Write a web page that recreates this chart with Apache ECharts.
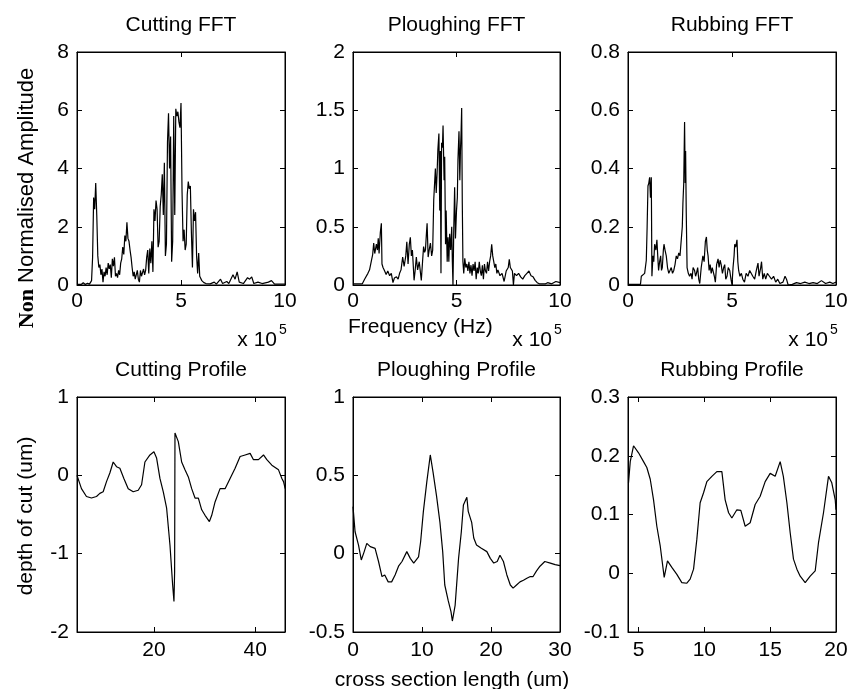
<!DOCTYPE html>
<html lang="en">
<head>
<meta charset="UTF-8">
<title>FFT and surface profiles</title>
<script src="https://cdn.jsdelivr.net/npm/echarts@6/dist/echarts.min.js"></script>
<style>
    body { margin: 0; background: #fff; }
    #chart { width: 859px; height: 689px; }
</style>
</head>
<body>
<div id="chart"></div>
<script>
    // ---- data: FFT spectra (frequency in units of 1e5 Hz, amplitude) ----
    const cuttingFft = [[0,0.02],[0.2,0.02],[0.3,0.08],[0.4,0.02],[0.5,0.06],[0.6,0.03],[0.7,0.15],[0.75,0.95],[0.8,3.0],[0.85,2.6],[0.9,3.5],[0.95,2.4],[1.0,1.0],[1.05,0.6],[1.1,0.7],[1.15,0.35],[1.2,0.55],[1.25,0.1],[1.3,0.45],[1.35,0.3],[1.4,0.6],[1.45,0.35],[1.5,0.75],[1.55,0.55],[1.6,0.7],[1.65,0.25],[1.7,0.9],[1.75,0.65],[1.8,0.95],[1.85,0.3],[1.9,0.4],[1.95,0.25],[2.0,0.5],[2.05,0.35],[2.1,0.75],[2.15,0.9],[2.2,1.3],[2.25,1.05],[2.3,1.7],[2.35,1.5],[2.4,2.15],[2.45,1.6],[2.5,1.5],[2.55,1.2],[2.6,0.95],[2.65,0.6],[2.7,0.3],[2.75,0.45],[2.8,0.2],[2.9,0.5],[2.95,0.2],[3.0,0.1],[3.05,0.5],[3.1,0.3],[3.2,0.55],[3.25,0.35],[3.3,0.5],[3.35,0.95],[3.4,1.2],[3.45,0.4],[3.5,1.25],[3.55,0.75],[3.6,1.5],[3.65,0.45],[3.7,2.6],[3.75,2.2],[3.8,2.9],[3.85,2.6],[3.9,1.3],[3.95,1.5],[4.0,2.7],[4.05,3.1],[4.1,3.8],[4.15,2.4],[4.2,4.2],[4.25,1.0],[4.3,1.4],[4.35,4.9],[4.4,5.9],[4.45,4.0],[4.5,5.1],[4.55,0.8],[4.6,1.5],[4.65,5.8],[4.7,2.4],[4.75,6.05],[4.8,5.8],[4.85,5.95],[4.9,5.6],[4.95,5.4],[5.0,6.25],[5.05,3.2],[5.1,1.5],[5.15,1.9],[5.2,1.2],[5.25,1.4],[5.3,3.1],[5.35,3.55],[5.4,3.3],[5.45,3.4],[5.5,1.8],[5.55,0.6],[5.6,2.6],[5.65,2.2],[5.7,2.5],[5.75,1.0],[5.8,0.4],[5.85,1.1],[5.9,0.3],[6.0,0.15],[6.1,0.08],[6.2,0.05],[6.4,0.04],[6.6,0.1],[6.7,0.03],[6.9,0.2],[7.0,0.05],[7.2,0.12],[7.3,0.05],[7.5,0.35],[7.6,0.2],[7.7,0.45],[7.8,0.1],[8.0,0.05],[8.2,0.25],[8.3,0.2],[8.4,0.28],[8.5,0.05],[8.7,0.1],[8.9,0.05],[9.2,0.1],[9.35,0.15],[9.5,0.03],[10,0.03]];
    const ploughingFft = [[0,0.01],[0.45,0.01],[0.56,0.05],[0.65,0.06],[0.72,0.1],[0.8,0.13],[0.89,0.21],[0.95,0.26],[1.0,0.36],[1.05,0.27],[1.13,0.35],[1.18,0.3],[1.22,0.4],[1.26,0.27],[1.32,0.45],[1.37,0.53],[1.4,0.18],[1.45,0.15],[1.53,0.12],[1.6,0.09],[1.68,0.12],[1.77,0.08],[1.85,0.1],[1.93,0.02],[2.0,0.06],[2.1,0.07],[2.18,0.05],[2.25,0.1],[2.32,0.13],[2.4,0.24],[2.47,0.16],[2.55,0.25],[2.6,0.37],[2.66,0.18],[2.72,0.35],[2.77,0.41],[2.82,0.25],[2.87,0.3],[2.95,0.04],[3.0,0.12],[3.06,0.24],[3.12,0.13],[3.2,0.2],[3.25,0.21],[3.3,0.04],[3.36,0.2],[3.41,0.33],[3.46,0.28],[3.5,0.3],[3.55,0.45],[3.58,0.53],[3.63,0.24],[3.68,0.3],[3.74,0.36],[3.8,0.25],[3.85,0.3],[3.9,0.73],[3.95,0.9],[3.98,1.0],[4.02,0.79],[4.06,0.95],[4.1,1.16],[4.15,1.3],[4.19,0.64],[4.22,1.15],[4.25,0.1],[4.28,1.22],[4.32,1.18],[4.35,1.37],[4.4,0.9],[4.43,1.1],[4.47,0.35],[4.5,0.64],[4.55,0.2],[4.59,0.41],[4.63,0.2],[4.67,0.44],[4.72,0.3],[4.77,0.5],[4.8,0.2],[4.83,0.0],[4.87,0.5],[4.91,0.84],[4.95,0.4],[5.0,0.64],[5.04,0.75],[5.07,1.07],[5.12,1.32],[5.16,0.9],[5.19,1.15],[5.22,1.3],[5.25,1.52],[5.28,0.7],[5.31,0.2],[5.35,0.1],[5.4,0.23],[5.45,0.15],[5.5,0.18],[5.55,0.12],[5.6,0.2],[5.65,0.1],[5.7,0.17],[5.75,0.08],[5.8,0.18],[5.85,0.12],[5.9,0.2],[5.95,0.05],[6.0,0.15],[6.05,0.1],[6.1,0.2],[6.15,0.12],[6.2,0.08],[6.25,0.17],[6.3,0.05],[6.35,0.18],[6.4,0.12],[6.45,0.1],[6.5,0.2],[6.55,0.12],[6.6,0.2],[6.65,0.25],[6.7,0.35],[6.75,0.25],[6.8,0.2],[6.85,0.15],[6.9,0.18],[6.95,0.1],[7.0,0.13],[7.1,0.08],[7.2,0.1],[7.3,0.03],[7.4,0.12],[7.5,0.15],[7.55,0.22],[7.6,0.15],[7.7,0.12],[7.75,0.0],[7.8,0.1],[7.9,0.08],[8.0,0.1],[8.1,0.07],[8.2,0.05],[8.3,0.08],[8.4,0.1],[8.5,0.12],[8.6,0.08],[8.7,0.07],[8.8,0.04],[8.9,0.02],[9.0,0.01],[9.3,0.01],[9.4,0.02],[9.6,0.01],[9.8,0.03],[10,0.02]];
    const rubbingFft = [[0,0.002],[0.6,0.002],[0.64,0.03],[0.72,0.03],[0.8,0.04],[0.88,0.085],[0.92,0.2],[0.96,0.34],[1.0,0.35],[1.04,0.37],[1.08,0.3],[1.12,0.37],[1.15,0.03],[1.2,0.1],[1.24,0.08],[1.28,0.14],[1.34,0.12],[1.39,0.155],[1.43,0.1],[1.47,0.05],[1.52,0.08],[1.57,0.1],[1.61,0.05],[1.65,0.06],[1.7,0.12],[1.73,0.14],[1.78,0.12],[1.84,0.1],[1.9,0.06],[1.96,0.04],[2.02,0.05],[2.08,0.06],[2.14,0.04],[2.2,0.05],[2.26,0.07],[2.32,0.1],[2.38,0.09],[2.44,0.11],[2.5,0.1],[2.56,0.1],[2.61,0.2],[2.64,0.28],[2.68,0.35],[2.72,0.56],[2.75,0.35],[2.77,0.46],[2.8,0.25],[2.84,0.06],[2.9,0.04],[2.96,0.03],[3.03,0.04],[3.08,0.02],[3.13,0.06],[3.2,0.05],[3.25,0.03],[3.29,0.04],[3.35,0.06],[3.4,0.02],[3.45,0.005],[3.52,0.06],[3.6,0.1],[3.66,0.08],[3.72,0.15],[3.77,0.165],[3.81,0.12],[3.85,0.1],[3.9,0.05],[3.95,0.07],[4.0,0.04],[4.05,0.06],[4.09,0.06],[4.15,0.03],[4.2,0.01],[4.26,0.07],[4.33,0.09],[4.38,0.06],[4.43,0.085],[4.48,0.07],[4.54,0.04],[4.6,0.06],[4.65,0.07],[4.7,0.02],[4.76,0.03],[4.82,0.06],[4.89,0.05],[4.95,0.02],[5.0,0.0],[5.05,0.06],[5.1,0.1],[5.13,0.14],[5.18,0.13],[5.24,0.155],[5.28,0.08],[5.32,0.05],[5.38,0.03],[5.45,0.04],[5.52,0.02],[5.6,0.01],[5.68,0.04],[5.77,0.03],[5.85,0.05],[5.93,0.045],[6.0,0.03],[6.09,0.02],[6.17,0.05],[6.25,0.075],[6.3,0.03],[6.38,0.06],[6.42,0.08],[6.48,0.02],[6.55,0.04],[6.62,0.02],[6.7,0.04],[6.8,0.03],[6.9,0.02],[7.0,0.03],[7.1,0.01],[7.2,0.02],[7.3,0.005],[7.45,0.01],[7.55,0.03],[7.62,0.02],[7.7,0.0],[7.9,0.002],[8.1,0.008],[8.3,0.005],[8.5,0.01],[8.7,0.005],[8.9,0.008],[9.1,0.005],[9.3,0.015],[9.5,0.005],[9.7,0.01],[9.85,0.005],[10,0.01]];

    // ---- data: surface profiles (cross section length um, depth um) ----
    const cuttingProfile = [[4.8,0],[5.68,-0.17],[6.67,-0.27],[7.66,-0.29],[8.65,-0.27],[9.31,-0.23],[9.97,-0.21],[10.63,-0.08],[11.29,0.03],[11.95,0.17],[12.61,0.11],[13.27,0.09],[14.06,-0.04],[14.92,-0.17],[15.91,-0.21],[16.9,-0.19],[17.56,-0.12],[18.22,0.17],[19.21,0.26],[20.0,0.3],[20.53,0.22],[21.19,-0.04],[21.85,-0.21],[22.51,-0.42],[23.17,-0.89],[23.7,-1.4],[23.96,-1.61],[24.09,-1.23],[24.16,0.54],[24.82,0.43],[25.48,0.17],[26.14,0.07],[26.8,-0.02],[27.46,-0.17],[28.12,-0.29],[28.78,-0.29],[29.44,-0.44],[30.1,-0.51],[30.96,-0.59],[31.42,-0.51],[32.08,-0.34],[33.07,-0.17],[34.06,-0.17],[35.05,-0.04],[36.04,0.09],[37.03,0.24],[38.02,0.26],[39.01,0.28],[39.67,0.2],[40.66,0.2],[41.65,0.26],[42.31,0.2],[43.3,0.13],[44.62,0.07],[45.28,-0.04],[45.61,-0.08],[45.94,-0.17]];
    const ploughingProfile = [[0,0.3],[0.3,0.14],[0.8,0.055],[1.2,-0.04],[1.6,0.01],[2.0,0.066],[2.5,0.045],[3.2,0.034],[3.7,-0.05],[4.2,-0.146],[4.6,-0.136],[5.1,-0.18],[5.6,-0.18],[6.1,-0.136],[6.6,-0.08],[7.1,-0.05],[7.8,0.013],[8.3,-0.03],[8.8,-0.06],[9.5,-0.02],[9.8,0.076],[10.2,0.27],[10.7,0.46],[11.2,0.63],[11.6,0.52],[12.1,0.37],[12.6,0.2],[13.0,0.013],[13.3,-0.2],[13.8,-0.3],[14.2,-0.37],[14.4,-0.43],[14.8,-0.33],[15.3,-0.03],[15.7,0.14],[16.0,0.31],[16.5,0.36],[16.7,0.27],[17.2,0.2],[17.5,0.1],[17.9,0.055],[18.6,0.034],[19.4,0.013],[19.9,-0.03],[20.4,-0.06],[20.9,-0.05],[21.3,-0.01],[21.8,-0.05],[22.3,-0.136],[22.8,-0.2],[23.2,-0.22],[23.7,-0.2],[24.2,-0.18],[24.7,-0.17],[25.2,-0.157],[25.7,-0.146],[26.1,-0.146],[26.6,-0.11],[27.1,-0.08],[27.8,-0.05],[28.6,-0.06],[29.3,-0.07],[30.0,-0.076]];
    const rubbingProfile = [[4.24,0.154],[4.37,0.19],[4.62,0.217],[5.0,0.205],[5.38,0.19],[5.63,0.18],[5.89,0.16],[6.14,0.125],[6.39,0.08],[6.65,0.046],[6.95,-0.007],[7.2,0.021],[7.53,0.01],[7.91,-0.002],[8.29,-0.016],[8.67,-0.017],[8.92,-0.01],[9.18,0.007],[9.43,0.058],[9.68,0.12],[9.94,0.137],[10.19,0.156],[10.57,0.165],[10.95,0.173],[11.33,0.173],[11.58,0.125],[11.84,0.103],[12.09,0.094],[12.47,0.108],[12.77,0.107],[13.1,0.08],[13.48,0.086],[13.86,0.117],[14.24,0.131],[14.62,0.156],[15.0,0.17],[15.38,0.165],[15.76,0.19],[16.0,0.165],[16.27,0.12],[16.52,0.069],[16.77,0.024],[17.03,0.007],[17.28,-0.005],[17.66,-0.016],[18.04,-0.005],[18.42,0.004],[18.67,0.052],[19.05,0.103],[19.43,0.165],[19.68,0.154],[19.94,0.125],[20.0,0.108]];

    // ---- tick labels ----
    const fftXTicks = [0, 5, 10];
    const cuttingFftYTicks = [0, 2, 4, 6, 8];
    const ploughingFftYTicks = [0, 0.5, 1, 1.5, 2];
    const rubbingFftYTicks = [0, 0.2, 0.4, 0.6, 0.8];
    const cuttingProfileXTicks = [20, 40];
    const cuttingProfileYTicks = [-2, -1, 0, 1];
    const ploughingProfileXTicks = [0, 10, 20, 30];
    const ploughingProfileYTicks = [-0.5, 0, 0.5, 1];
    const rubbingProfileXTicks = [5, 10, 15, 20];
    const rubbingProfileYTicks = [-0.1, 0, 0.1, 0.2, 0.3];

    const FONT = "'Liberation Sans', Arial, sans-serif";
    const FS = 21;

    // 面板布局
    const panels = [
        { title: "Cutting FFT", data: cuttingFft, box: [77, 52, 208, 233], xr: [0, 10], yr: [0, 8], xt: fftXTicks, yt: cuttingFftYTicks },
        { title: "Ploughing FFT", data: ploughingFft, box: [353, 52, 207, 233], xr: [0, 10], yr: [0, 2], xt: fftXTicks, yt: ploughingFftYTicks },
        { title: "Rubbing FFT", data: rubbingFft, box: [628, 52, 208, 233], xr: [0, 10], yr: [0, 0.8], xt: fftXTicks, yt: rubbingFftYTicks },
        { title: "Cutting Profile", data: cuttingProfile, box: [77, 397, 208, 235], xr: [4.8, 45.9], yr: [-2, 1], xt: cuttingProfileXTicks, yt: cuttingProfileYTicks },
        { title: "Ploughing Profile", data: ploughingProfile, box: [353, 397, 207, 235], xr: [0, 30], yr: [-0.5, 1], xt: ploughingProfileXTicks, yt: ploughingProfileYTicks },
        { title: "Rubbing Profile", data: rubbingProfile, box: [628, 397, 208, 235], xr: [4.2, 20], yr: [-0.1, 0.3], xt: rubbingProfileXTicks, yt: rubbingProfileYTicks }
    ];

    const grid = [], xAxis = [], yAxis = [], series = [], graphic = [];
    const txt = (x, y, text, extra) => ({
        type: "text", x: x, y: y, silent: true,
        style: Object.assign({ text: text, fill: "#000", font: FS + "px " + FONT, textAlign: "center", textVerticalAlign: "middle" }, extra || {})
    });

    panels.forEach((p, i) => {
        const [l, t, w, h] = p.box;
        grid.push({ left: l, top: t, width: w, height: h, show: true, borderColor: "#000", borderWidth: 1, containLabel: false, outerBoundsMode: "none" });
        const tick = (vals) => ({ show: true, inside: true, length: 5, customValues: vals, lineStyle: { color: "#000", width: 1 } });
        const line = { show: true, onZero: false, lineStyle: { color: "#000", width: 1 } };
        const label = (vals, margin) => ({ show: true, customValues: vals, margin: margin, color: "#000", fontSize: FS, fontFamily: FONT, showMinLabel: true, showMaxLabel: true });
        const base = { gridIndex: i, type: "value", splitLine: { show: false }, axisLine: line };
        xAxis.push(Object.assign({}, base, { position: "bottom", min: p.xr[0], max: p.xr[1], axisTick: tick(p.xt), axisLabel: label(p.xt, i < 3 ? 6 : 8) }));
        xAxis.push(Object.assign({}, base, { position: "top", min: p.xr[0], max: p.xr[1], axisTick: tick(p.xt), axisLabel: { show: false } }));
        yAxis.push(Object.assign({}, base, { position: "left", min: p.yr[0], max: p.yr[1], axisTick: tick(p.yt), axisLabel: label(p.yt, 8) }));
        yAxis.push(Object.assign({}, base, { position: "right", min: p.yr[0], max: p.yr[1], axisTick: tick(p.yt), axisLabel: { show: false } }));
        series.push({
            type: "line", xAxisIndex: 2 * i, yAxisIndex: 2 * i, data: p.data,
            showSymbol: false, silent: true, animation: false,
            lineStyle: { color: "#000", width: 1.2 }
        });
        // 标题
        graphic.push(txt(l + w / 2, i < 3 ? 25 : 370, p.title));
        // x 10^5 倍率
        if (i < 3) {
            graphic.push(txt(l + w - 8, 340, "x 10", { textAlign: "right" }));
            graphic.push(txt(l + w - 6, 330, "5", { textAlign: "left", font: "14px " + FONT }));
        }
    });

    // 轴标题
    graphic.push(txt(348, 327, "Frequency (Hz)", { textAlign: "left" }));
    graphic.push(txt(452, 680, "cross section length (um)"));
    graphic.push(Object.assign(txt(26, 516, "depth of cut (um)"), { rotation: Math.PI / 2 }));
    graphic.push({
        type: "text", x: 27, y: 198, rotation: Math.PI / 2, silent: true,
        style: {
            text: "{n|Non} Normalised Amplitude", fill: "#000", font: "22px " + FONT,
            textAlign: "center", textVerticalAlign: "middle",
            rich: { n: { fontFamily: "'Liberation Serif', 'Times New Roman', serif", fontWeight: "bold", fontSize: 22, fill: "#000" } }
        }
    });

    const chart = echarts.init(document.getElementById("chart"));
    chart.setOption({
        animation: false,
        backgroundColor: "#fff",
        grid: grid,
        xAxis: xAxis,
        yAxis: yAxis,
        series: series,
        graphic: graphic
    });
</script>
</body>
</html>
